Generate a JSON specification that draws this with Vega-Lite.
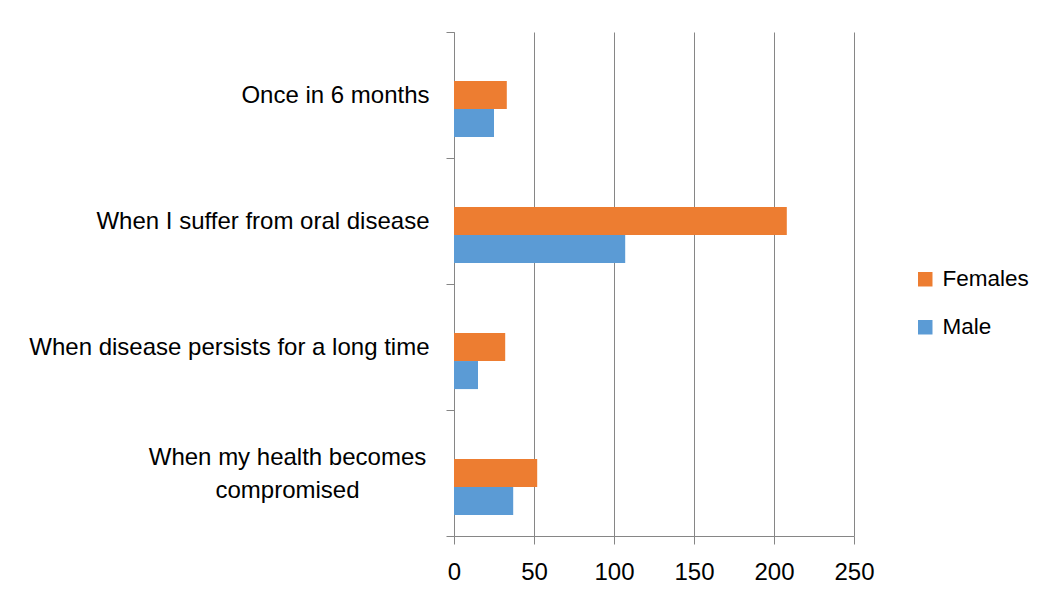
{
  "$schema": "https://vega.github.io/schema/vega-lite/v6.json",
  "autosize": "none",
  "width": 400,
  "height": 504,
  "padding": {"left": 454, "top": 32, "right": 190, "bottom": 64},
  "background": "white",
  "config": {
    "font": "Liberation Sans",
    "view": {"stroke": null}
  },
  "data": {
    "values": [
      {"category": "Once in 6 months", "gender": "Females", "value": 33},
      {"category": "Once in 6 months", "gender": "Male", "value": 25},
      {"category": "When I suffer from oral disease", "gender": "Females", "value": 208},
      {"category": "When I suffer from oral disease", "gender": "Male", "value": 107},
      {"category": "When disease persists for a long time", "gender": "Females", "value": 32},
      {"category": "When disease persists for a long time", "gender": "Male", "value": 15},
      {"category": "When my health becomes compromised", "gender": "Females", "value": 52},
      {"category": "When my health becomes compromised", "gender": "Male", "value": 37}
    ]
  },
  "mark": {"type": "bar"},
  "encoding": {
    "y": {
      "field": "category",
      "type": "nominal",
      "sort": null,
      "scale": {"paddingInner": 0, "paddingOuter": 0},
      "axis": {
        "title": null,
        "tickBand": "extent",
        "tickSize": 8,
        "tickColor": "#868686",
        "domainColor": "#868686",
        "labelFontSize": 24,
        "labelColor": "#000000",
        "labelLineHeight": 33,
        "labelLimit": 600,
        "labelExpr": "datum.value == 'When my health becomes compromised' ? ['When my health becomes', 'compromised'] : datum.value",
        "labelAlign": {"condition": {"test": "datum.value == 'When my health becomes compromised'", "value": "center"}, "value": "right"},
        "labelPadding": {"condition": {"test": "datum.value == 'When my health becomes compromised'", "value": 159}, "value": 17},
        "labelOffset": {"condition": {"test": "datum.value == 'When my health becomes compromised'", "value": -16}, "value": 0}
      }
    },
    "yOffset": {
      "field": "gender",
      "type": "nominal",
      "scale": {"domain": ["_blank", "Females", "Male"], "paddingInner": 0, "paddingOuter": 0.7455}
    },
    "x": {
      "field": "value",
      "type": "quantitative",
      "scale": {"domain": [0, 250], "nice": false},
      "axis": {
        "title": null,
        "values": [0, 50, 100, 150, 200, 250],
        "grid": true,
        "gridColor": "#868686",
        "tickColor": "#868686",
        "domainColor": "#868686",
        "tickSize": 8,
        "labelFlush": false,
        "labelFontSize": 24,
        "labelColor": "#000000",
        "labelPadding": 16
      }
    },
    "color": {
      "field": "gender",
      "type": "nominal",
      "scale": {"domain": ["Females", "Male"], "range": ["#ED7D31", "#5B9BD5"]},
      "legend": {
        "title": null,
        "orient": "none",
        "legendX": 460,
        "legendY": 236,
        "symbolType": "square",
        "symbolSize": 210,
        "symbolStrokeWidth": 0,
        "labelFontSize": 22.5,
        "labelColor": "#000000",
        "labelOffset": 6,
        "rowPadding": 25
      }
    }
  }
}
